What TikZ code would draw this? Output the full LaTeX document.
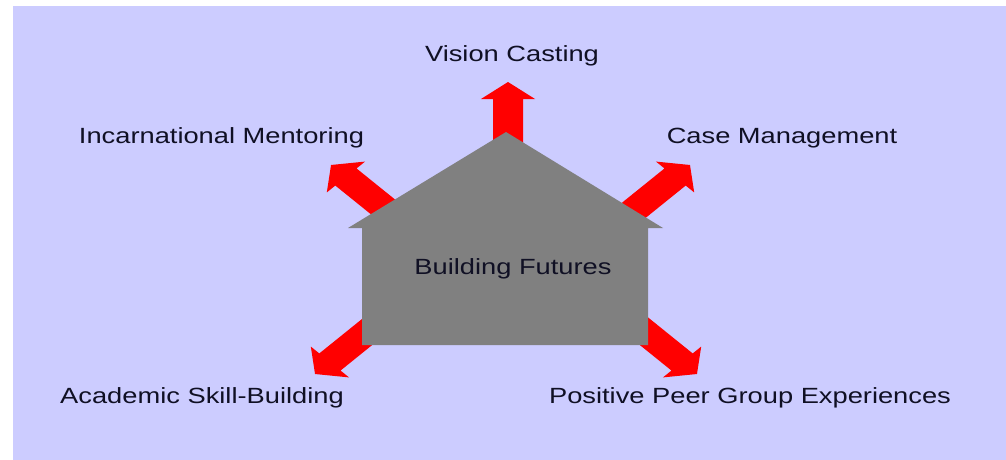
\documentclass[tikz,border=0pt]{standalone}
\usepackage{fontspec}
\setmainfont{Liberation Sans}
\usetikzlibrary{calc,positioning}

\definecolor{bgLavender}{RGB}{204,204,255}
\definecolor{arrowRed}{RGB}{255,0,0}
\definecolor{houseGray}{RGB}{128,128,128}
\definecolor{labelInk}{RGB}{16,16,36}

\tikzset{
    label text/.style={inner sep=0pt, anchor=base, xscale=1.24, text=labelInk,
        font=\fontsize{22}{26}\selectfont},
    fat arrow/.style={fill=arrowRed, draw=none}
}

\begin{document}
\begin{tikzpicture}[x=1pt,y=-1pt]

\newcommand{\drawFatArrow}[3]{
    \begin{scope}[shift={(#1)}, xscale=1.24, rotate=#2]
        \fill[fat arrow] (0,-12.1) -- (#3-17,-12.1) -- (#3-17,-21.8) -- (#3,0)
            -- (#3-17,21.8) -- (#3-17,12.1) -- (0,12.1) -- cycle;
    \end{scope}
}

\useasboundingbox (0,0) rectangle (1006,460);
\fill[white] (0,0) rectangle (1006,460);
\fill[bgLavender] (13,6) rectangle (1006,460);

% arrow bases, hidden under the house
\coordinate (cUpPt) at (508,150);
\coordinate (cULPt) at (418.7,235.7);
\coordinate (cURPt) at (602.3,235.7);
\coordinate (cLLPt) at (402.7,303.3);
\coordinate (cLRPt) at (609.3,303.3);

\drawFatArrow{cUpPt}{90}{68}
\drawFatArrow{cULPt}{135}{100}
\drawFatArrow{cURPt}{45}{100}
\drawFatArrow{cLLPt}{225}{100}
\drawFatArrow{cLRPt}{315}{100}

% house
\coordinate (cApexPt) at (506,132);
\fill[houseGray] (348,228) -- (cApexPt) -- (663,228) -- (648,228) -- (648,345)
    -- (362,345) -- (362,228) -- cycle;

\node[label text] (futures) at (513,274) {Building Futures};
\node[label text] (vision) at (512,62) {Vision Casting};
\node[label text] (mentoring) at (221.5,143) {Incarnational Mentoring};
\node[label text] (casemgmt) at (782,143) {Case Management};
\node[label text] (academic) at (202,403) {Academic Skill-Building};
\node[label text] (peergroup) at (750,403) {Positive Peer Group Experiences};

\end{tikzpicture}
\end{document}
